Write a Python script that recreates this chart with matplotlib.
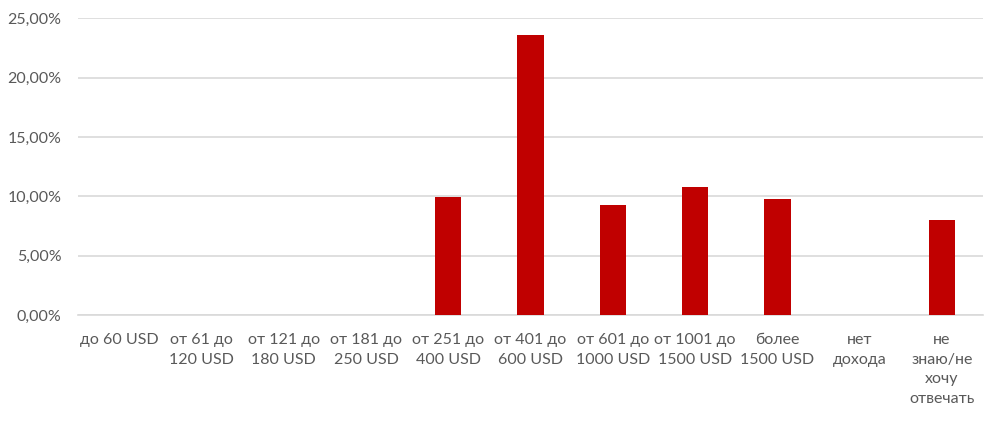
import matplotlib
matplotlib.use("Agg")
import matplotlib.pyplot as plt
from matplotlib.ticker import FuncFormatter

categories = ["до 60 USD", "от 61 до\n120 USD", "от 121 до\n180 USD", "от 181 до\n250 USD",
              "от 251 до\n400 USD", "от 401 до\n600 USD", "от 601 до\n1000 USD",
              "от 1001 до\n1500 USD", "более\n1500 USD", "нет\nдохода",
              "не\nзнаю/не\nхочу\nотвечать"]
values = [0, 0, 0, 0, 9.93, 23.57, 9.26, 10.77, 9.76, 0, 8.0]
yticks = [0, 5, 10, 15, 20, 25]

plt.rcParams['font.family'] = ['Lato', 'DejaVu Sans']
fig = plt.figure(figsize=(9.89, 4.23), dpi=100)
ax = fig.add_axes([0.079, 0.255, 0.915, 0.702])

x = range(len(categories))
ax.bar(x, values, width=0.32, color="#C00000", zorder=3)

ax.set_xlim(-0.5, len(categories) - 0.5)
ax.set_ylim(0, 25)
ax.set_yticks(yticks)
ax.yaxis.set_major_formatter(FuncFormatter(lambda v, p: f"{v:.2f}%".replace(".", ",")))
ax.set_xticks(list(x))
ax.set_xticklabels(categories, linespacing=1.5)
ax.yaxis.grid(True, color="#d9d9d9", linewidth=1.2, zorder=0)
for s in ["top", "right", "left"]:
    ax.spines[s].set_visible(False)
ax.spines["bottom"].set_color("#d9d9d9")
ax.spines["bottom"].set_linewidth(1.2)
ax.tick_params(axis="both", length=0, colors="#595959", labelsize=11.5)
ax.tick_params(axis="x", pad=13)
ax.tick_params(axis="y", pad=12)

fig.savefig("out.png", dpi=100)
